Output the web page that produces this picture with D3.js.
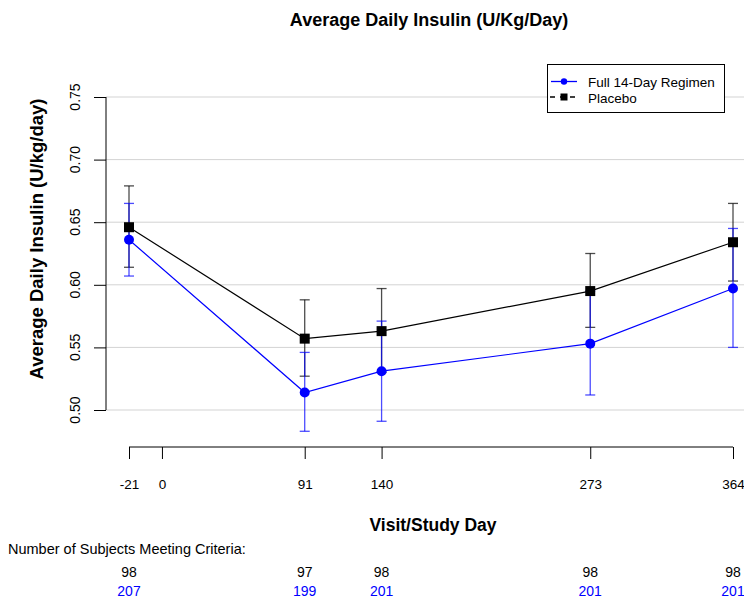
<!DOCTYPE html>
<html><head><meta charset="utf-8">
<script src="https://cdn.jsdelivr.net/npm/d3@7"></script>
<style>body{margin:0;background:#fff}svg{display:block;font-family:"Liberation Sans",Arial,sans-serif}</style>
</head><body><svg id="c" width="744" height="603"></svg>
<script>
const days = [-21, 91, 140, 273, 364];
const xTicks = [-21, 0, 91, 140, 273, 364];
const yTicks = [0.50, 0.55, 0.60, 0.65, 0.70, 0.75];
const fullMean = [0.636, 0.514, 0.531, 0.553, 0.597];
const fullLow  = [0.607, 0.483, 0.491, 0.512, 0.550];
const fullHigh = [0.665, 0.546, 0.571, 0.595, 0.645];
const placMean = [0.646, 0.557, 0.563, 0.595, 0.634];
const placLow  = [0.614, 0.527, 0.530, 0.566, 0.603];
const placHigh = [0.679, 0.588, 0.597, 0.625, 0.665];
const nPlacebo = [98, 97, 98, 98, 98];
const nFull = [207, 199, 201, 201, 201];

const FONT = "Liberation Sans, Arial, sans-serif";
const svg = d3.select("#c");
const x = d3.scaleLinear().domain([-21, 364]).range([129, 733]);
const y = d3.scaleLinear().domain([0.50, 0.75]).range([410, 97]);

// gridlines
svg.append("g").selectAll("line").data(yTicks).join("line")
  .attr("x1", 106).attr("x2", 744).attr("y1", d => y(d)).attr("y2", d => y(d))
  .attr("stroke", "#d3d3d3").attr("stroke-width", 1);

// y axis
const ya = svg.append("g").attr("transform", "translate(106,0)")
  .call(d3.axisLeft(y).tickValues(yTicks).tickFormat("").tickSize(12));
ya.select(".domain").attr("d", `M0,${y(0.5)}V${y(0.75)}`);
svg.append("g").selectAll("text").data(yTicks).join("text")
  .attr("transform", d => `translate(80,${y(d)}) rotate(-90)`)
  .attr("text-anchor", "middle").attr("font-size", 14).attr("font-family", FONT)
  .text(d => d3.format(".2f")(d));

// x axis
const xa = svg.append("g").attr("transform", "translate(0,447)")
  .call(d3.axisBottom(x).tickValues(xTicks).tickFormat(d => String(d)).tickSize(12).tickPadding(20));
xa.select(".domain").attr("d", `M${x(-21)},0H${x(364)}`);
xa.selectAll("text").attr("font-size", 13.5).attr("font-family", FONT).attr("fill", "#000");

// titles
svg.append("text").attr("x", 429).attr("y", 26).attr("text-anchor", "middle")
  .attr("font-weight", "bold").attr("font-size", 18).text("Average Daily Insulin (U/Kg/Day)");
svg.append("text").attr("x", 433).attr("y", 531).attr("text-anchor", "middle")
  .attr("font-weight", "bold").attr("font-size", 17.5).text("Visit/Study Day");
svg.append("text").attr("transform", `translate(43,239) rotate(-90)`).attr("text-anchor", "middle")
  .attr("font-weight", "bold").attr("font-size", 18.5).text("Average Daily Insulin (U/kg/day)");

// error bars
function errs(low, high, color) {
  const g = svg.append("g").attr("stroke", color).attr("stroke-opacity", 0.7).attr("stroke-width", 1.3);
  days.forEach((d, i) => {
    const cx = x(d);
    g.append("line").attr("x1", cx).attr("x2", cx).attr("y1", y(low[i])).attr("y2", y(high[i]));
    g.append("line").attr("x1", cx - 5).attr("x2", cx + 5).attr("y1", y(low[i])).attr("y2", y(low[i]));
    g.append("line").attr("x1", cx - 5).attr("x2", cx + 5).attr("y1", y(high[i])).attr("y2", y(high[i]));
  });
}
errs(placLow, placHigh, "#000");
errs(fullLow, fullHigh, "#0000ff");

const line = d3.line().x((d, i) => x(days[i])).y(d => y(d));
svg.append("path").datum(placMean).attr("d", line).attr("fill", "none").attr("stroke", "#000").attr("stroke-width", 1.2);
svg.append("path").datum(fullMean).attr("d", line).attr("fill", "none").attr("stroke", "#0000ff").attr("stroke-width", 1.2);

svg.append("g").selectAll("rect").data(placMean).join("rect")
  .attr("x", (d, i) => x(days[i]) - 5).attr("y", d => y(d) - 5).attr("width", 10).attr("height", 10).attr("fill", "#000");
svg.append("g").selectAll("circle").data(fullMean).join("circle")
  .attr("cx", (d, i) => x(days[i])).attr("cy", d => y(d)).attr("r", 5).attr("fill", "#0000ff");

// legend
const lg = svg.append("g");
lg.append("rect").attr("x", 547.5).attr("y", 64.5).attr("width", 177).attr("height", 48)
  .attr("fill", "#fff").attr("stroke", "#000").attr("stroke-width", 1);
lg.append("line").attr("x1", 551).attr("x2", 577).attr("y1", 81.5).attr("y2", 81.5).attr("stroke", "#0000ff").attr("stroke-width", 1.3);
lg.append("circle").attr("cx", 564).attr("cy", 81.5).attr("r", 3.2).attr("fill", "#0000ff");
lg.append("line").attr("x1", 550).attr("x2", 578).attr("y1", 97).attr("y2", 97).attr("stroke", "#000").attr("stroke-width", 1.3).attr("stroke-dasharray", "5,5");
lg.append("rect").attr("x", 560.5).attr("y", 93.5).attr("width", 7).attr("height", 7).attr("fill", "#000");
lg.append("text").attr("x", 588).attr("y", 86.5).attr("font-size", 13.5).text("Full 14-Day Regimen");
lg.append("text").attr("x", 588).attr("y", 102.5).attr("font-size", 13.5).text("Placebo");

// counts
svg.append("text").attr("x", 8).attr("y", 554).attr("font-size", 14.5).text("Number of Subjects Meeting Criteria:");
svg.append("g").selectAll("text").data(nPlacebo).join("text")
  .attr("x", (d, i) => x(days[i])).attr("y", 577).attr("text-anchor", "middle").attr("font-size", 14).text(d => d);
svg.append("g").selectAll("text").data(nFull).join("text")
  .attr("x", (d, i) => x(days[i])).attr("y", 596).attr("text-anchor", "middle").attr("font-size", 14)
  .attr("fill", "#0000ff").text(d => d);
</script></body></html>
